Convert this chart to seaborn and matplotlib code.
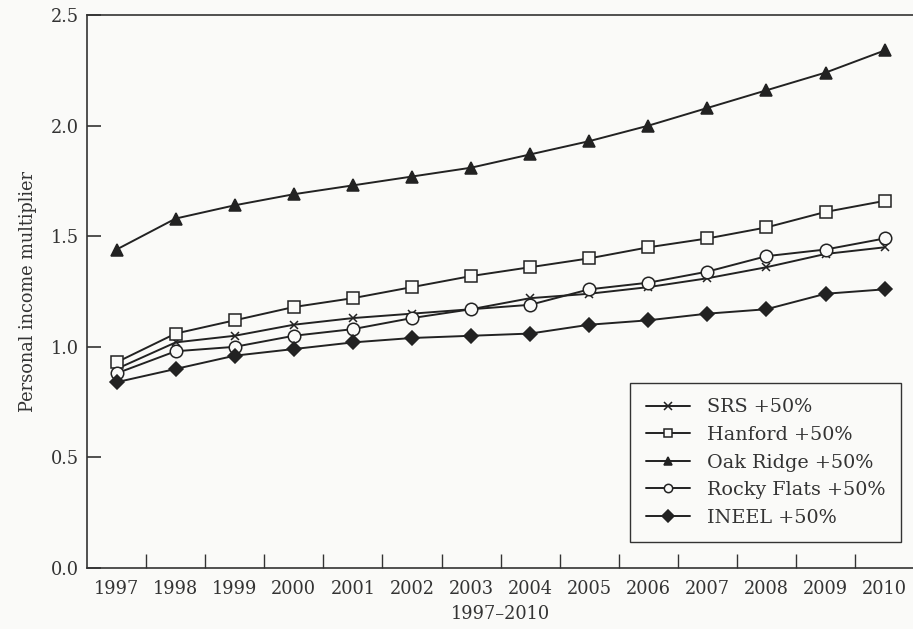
import numpy as np
import pandas as pd
import seaborn as sns
from matplotlib import pyplot as plt
from matplotlib.ticker import FixedLocator

##############################################
# data

years = list(range(1997, 2011))

srs = [0.90, 1.02, 1.05, 1.10, 1.13, 1.15, 1.17, 1.22, 1.24, 1.27, 1.31, 1.36, 1.42, 1.45]
hanford = [0.93, 1.06, 1.12, 1.18, 1.22, 1.27, 1.32, 1.36, 1.40, 1.45, 1.49, 1.54, 1.61, 1.66]
oak_ridge = [1.44, 1.58, 1.64, 1.69, 1.73, 1.77, 1.81, 1.87, 1.93, 2.00, 2.08, 2.16, 2.24, 2.34]
rocky_flats = [0.88, 0.98, 1.00, 1.05, 1.08, 1.13, 1.17, 1.19, 1.26, 1.29, 1.34, 1.41, 1.44, 1.49]
ineel = [0.84, 0.90, 0.96, 0.99, 1.02, 1.04, 1.05, 1.06, 1.10, 1.12, 1.15, 1.17, 1.24, 1.26]

series_names = ["SRS +50%", "Hanford +50%", "Oak Ridge +50%", "Rocky Flats +50%", "INEEL +50%"]
series_values = [srs, hanford, oak_ridge, rocky_flats, ineel]

y_ticks = [0.0, 0.5, 1.0, 1.5, 2.0, 2.5]

##############################################

df = pd.DataFrame(
    [
        {"year": y, "value": v, "series": name}
        for name, vals in zip(series_names, series_values)
        for y, v in zip(years, vals)
    ]
)

sns.set_style("ticks")
plt.rcParams["font.family"] = ["DejaVu Serif"]

ink = "#222222"
bg = "#fafaf8"
fig = plt.figure(figsize=(9.13, 6.29), dpi=100, facecolor=bg)
ax = fig.add_axes([0.0953, 0.097, 0.906, 0.879], facecolor=bg)

# seaborn won't mix line-art and filled markers, so SRS gets "X" here and "x" below
markers = {
    "SRS +50%": "X",
    "Hanford +50%": "s",
    "Oak Ridge +50%": "^",
    "Rocky Flats +50%": "o",
    "INEEL +50%": "D",
}

sns.lineplot(
    data=df,
    x="year",
    y="value",
    style="series",
    style_order=series_names,
    markers=markers,
    dashes=False,
    color=ink,
    linewidth=1.4,
    markersize=8,
    legend=False,
    ax=ax,
)

# fill / edge per series (open squares & circles, filled triangle & diamond)
face = {"SRS +50%": ink, "Hanford +50%": bg, "Oak Ridge +50%": ink,
        "Rocky Flats +50%": bg, "INEEL +50%": ink}
sizes = {"SRS +50%": 6, "Hanford +50%": 8, "Oak Ridge +50%": 9,
         "Rocky Flats +50%": 9, "INEEL +50%": 7}
for line, name in zip(ax.lines, series_names):
    if name == "SRS +50%":
        line.set_marker("x")
    line.set_markerfacecolor(face[name])
    line.set_markeredgecolor(ink)
    line.set_markersize(sizes[name])
    line.set_markeredgewidth(1.1)

ax.set_xlim(years[0] - 0.5, years[-1] + 0.5)
ax.set_ylim(0, 2.5)
ax.set_yticks(y_ticks)
ax.set_yticklabels([f"{t:.1f}" for t in y_ticks])
ax.set_xticks(years)
ax.set_xticklabels([str(y) for y in years])
ax.xaxis.set_minor_locator(FixedLocator([y + 0.5 for y in years[:-1]]))

ax.tick_params(axis="x", which="major", length=0, pad=9, labelsize=12.8, colors="#333333")
ax.tick_params(axis="x", which="minor", direction="in", length=10, width=1.0, color="#333333")
ax.tick_params(axis="y", direction="in", length=10, width=1.2, pad=6, labelsize=12.8,
               colors="#333333")

ax.set_xlabel("1997\u20132010", fontsize=12.8, color="#333333", labelpad=5)
ax.set_ylabel("Personal income multiplier", fontsize=12.8, color="#333333", labelpad=10)

for _, spine in ax.spines.items():
    spine.set_visible(True)
    spine.set_linewidth(1.2)
    spine.set_color("#333333")

leg = ax.legend(
    ax.lines[: len(series_names)],
    series_names,
    loc="lower right",
    bbox_to_anchor=(0.984, 0.047),
    borderaxespad=0,
    fontsize=13.8,
    frameon=True,
    fancybox=False,
    edgecolor="#333333",
    facecolor=bg,
    framealpha=1,
    handlelength=2.3,
    labelspacing=0.5,
    borderpad=0.8,
    handletextpad=0.9,
)
leg.get_frame().set_linewidth(1.0)
for lh in leg.get_lines():
    lh.set_markersize(6)
for t in leg.get_texts():
    t.set_color("#333333")

fig.savefig("out.png", dpi=100, facecolor=bg)
